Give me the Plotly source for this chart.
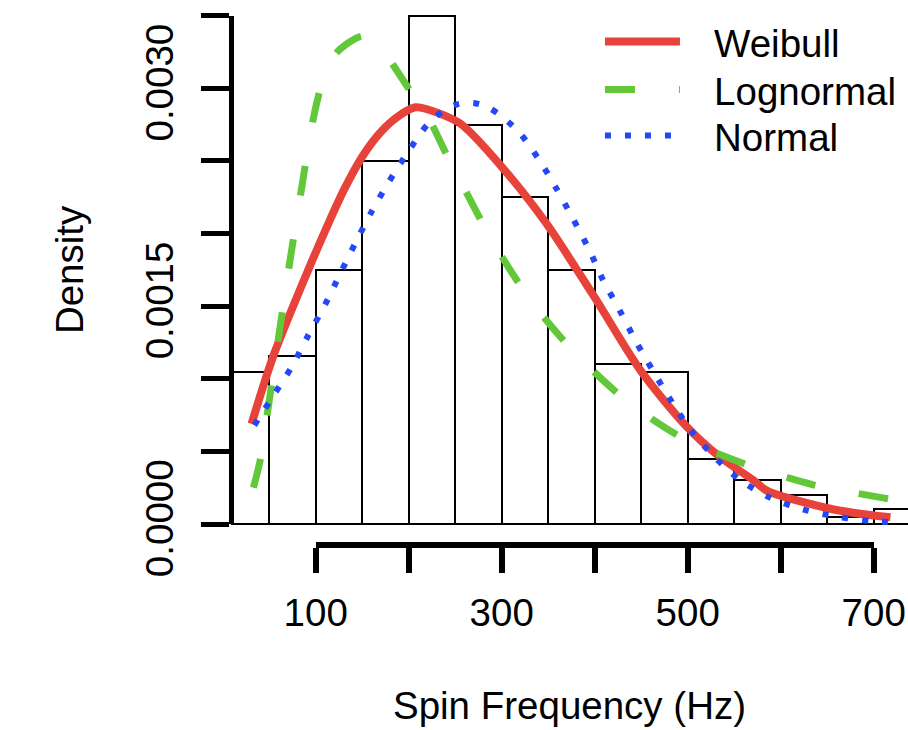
import plotly.graph_objects as go

# ---- data ----
bin_left = [0, 50, 100, 150, 200, 250, 300, 350, 400, 450, 500, 550, 600, 650, 700]
bin_width = 50
density = [0.00105, 0.00116, 0.00175, 0.00250, 0.00350, 0.00275, 0.00225, 0.00175,
           0.00110, 0.00105, 0.00045, 0.00030, 0.00020, 0.00005, 0.00010]

weibull_x = [31, 54, 92, 115, 131, 151, 170, 187, 207, 218, 255, 300, 348, 381, 402, 449, 499, 535, 571,
             585, 657, 718]
weibull_y = [0.00069, 0.00115, 0.00175, 0.00209, 0.00231, 0.00254, 0.00270, 0.00280, 0.00287, 0.00286,
             0.00276, 0.00246, 0.00207, 0.00175, 0.00154, 0.00106, 0.00067, 0.00046, 0.00030, 0.00023,
             0.00010, 0.000046]

lognormal_x = [33, 40, 47, 62, 71, 85, 97, 108, 123, 150, 166, 178, 203, 221, 241, 255, 289, 330,
               377, 434, 495, 563, 635, 710, 728]
lognormal_y = [0.00025, 0.00043, 0.00072, 0.00137, 0.00176, 0.00232, 0.00278, 0.00306, 0.00325, 0.00336,
               0.00331, 0.00321, 0.00297, 0.00280, 0.00254, 0.00237, 0.00196, 0.00155, 0.00119, 0.00085,
               0.00059, 0.00041, 0.00027, 0.00018, 0.00016]

normal_x = [34, 54, 74, 92, 110, 126, 143, 160, 179, 199, 220, 236, 252, 270, 288, 317, 339, 358, 376,
            394, 409, 427, 445, 464, 483, 504, 529, 557, 589, 624, 661, 699, 725]
normal_y = [0.00068, 0.00088, 0.00108, 0.00130, 0.00151, 0.00172, 0.00194, 0.00215, 0.00236, 0.00256,
            0.00275, 0.00284, 0.00289, 0.00290, 0.00286, 0.00271, 0.00252, 0.00232, 0.00211, 0.00189,
            0.00168, 0.00147, 0.00125, 0.00104, 0.00084, 0.00064, 0.00046, 0.00030, 0.00018, 0.00010,
            0.00005, 0.00002, 0.00001]

x_ticks = [100, 200, 300, 400, 500, 600, 700]
x_ticktext = ["100", "", "300", "", "500", "", "700"]
y_ticks = [0.0, 0.0005, 0.0010, 0.0015, 0.0020, 0.0025, 0.0030, 0.0035]
y_ticktext = ["0.0000", "", "", "0.0015", "", "", "0.0030", ""]

# ---- view ----
x_range = [8.9, 736.9]
y_range = [-0.0001446, 0.0036088]

FONT = "Liberation Sans, Arial, Helvetica, sans-serif"
FS = 38.5
GAP = "\u00a0\u00a0\u2009"

fig = go.Figure()
fig.add_trace(go.Bar(
    x=bin_left, y=density, width=bin_width, offset=0,
    marker=dict(color="white", line=dict(color="black", width=2)),
    showlegend=False, hoverinfo="skip"))
fig.add_trace(go.Scatter(x=weibull_x, y=weibull_y, mode="lines", name=GAP + "Weibull",
                         legend="legend",
                         line=dict(color="#E8433A", width=8, shape="spline", smoothing=0.8)))
fig.add_trace(go.Scatter(x=lognormal_x, y=lognormal_y, mode="lines", name=GAP + "Lognormal",
                         legend="legend2",
                         line=dict(color="#62C83A", width=7, dash="30px,44px", shape="spline",
                                   smoothing=0.8)))
fig.add_trace(go.Scatter(x=normal_x, y=normal_y, mode="lines", name=GAP + "Normal",
                         legend="legend3",
                         line=dict(color="#2448F5", width=6, dash="6px,14px", shape="spline",
                                   smoothing=0.8)))
# carrier trace so that the detached (R-style) axes are drawn
fig.add_trace(go.Scatter(x=[x_ticks[0], x_ticks[-1]], y=[y_ticks[0], y_ticks[-1]],
                         xaxis="x2", yaxis="y2", mode="markers",
                         marker=dict(opacity=0, size=1), showlegend=False, hoverinfo="skip"))

xd0 = (x_ticks[0] - x_range[0]) / (x_range[1] - x_range[0])
xd1 = (x_ticks[-1] - x_range[0]) / (x_range[1] - x_range[0])
yd0 = (y_ticks[0] - y_range[0]) / (y_range[1] - y_range[0])
yd1 = (y_ticks[-1] - y_range[0]) / (y_range[1] - y_range[0])

leg_common = dict(x=0.545, xanchor="left", yanchor="middle", bgcolor="rgba(0,0,0,0)",
                  font=dict(size=FS), itemwidth=75)

fig.update_layout(
    width=908, height=730,
    margin=dict(l=231, r=0, t=0, b=185, pad=0, autoexpand=False),
    paper_bgcolor="white", plot_bgcolor="rgba(0,0,0,0)",
    font=dict(family=FONT, size=FS, color="black"),
    bargap=0,
    xaxis=dict(range=x_range, showgrid=False, zeroline=False, showline=False,
               showticklabels=False, ticks="",
               title=dict(text="Spin Frequency (Hz)", standoff=147,
                          font=dict(size=FS))),
    yaxis=dict(range=y_range, showgrid=False, zeroline=False, showline=False,
               showticklabels=False, ticks=""),
    xaxis2=dict(domain=[xd0, xd1], range=[x_ticks[0], x_ticks[-1]], anchor="free", position=0,
                showgrid=False, zeroline=False, showline=True, linewidth=6, linecolor="black",
                ticks="outside", ticklen=25, tickwidth=6, tickcolor="black",
                tickvals=x_ticks, ticktext=x_ticktext, tickfont=dict(size=FS),
                ticklabelstandoff=7),
    yaxis2=dict(domain=[yd0, yd1], range=[y_ticks[0], y_ticks[-1]], anchor="free", position=0,
                side="left",
                showgrid=False, zeroline=False, showline=True, linewidth=5, linecolor="black",
                ticks="outside", ticklen=28, tickwidth=5, tickcolor="black",
                tickvals=y_ticks, ticktext=y_ticktext, tickangle=-90, tickfont=dict(size=FS),
                ticklabelstandoff=13,
                title=dict(text="Density", standoff=41, font=dict(size=FS))),
    legend=dict(y=1 - 42 / 545, **leg_common),
    legend2=dict(y=1 - 90 / 545, **leg_common),
    legend3=dict(y=1 - 136 / 545, **leg_common),
)

fig.write_html("out.html")
